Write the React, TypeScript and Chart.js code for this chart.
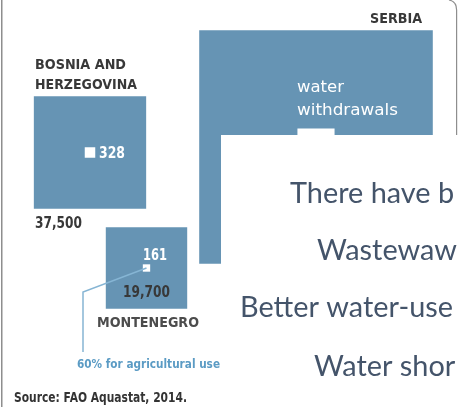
import React, { useEffect, useRef } from "react";
import { Chart, registerables } from "chart.js";

Chart.register(...registerables);

// ---- data (million m3 per year) ----
const countryNameLines = [["BOSNIA AND", "HERZEGOVINA"], ["SERBIA"], ["MONTENEGRO"]];
const totalResources = [37500, 162200, 19700];
const waterWithdrawals = [328, 4100, 161];
const resourceLabels = ["37,500", "", "19,700"];
const withdrawalLabels = ["328", "", "161"];
const legendLines = ["water", "withdrawals"];
const agriNote = "60% for agricultural use";
const sourceNote = "Source: FAO Aquastat, 2014.";
const overlayLines = ["There have b", "Wastewaw", "Better water-use", "Water shor"];

// ---- layout ----
const W = 458;
const H = 407;
const PX_PER_SQRT = 0.58;
const centers = [
  { x: 90, y: 152.5 },
  { x: 316, y: 147 },
  { x: 146.5, y: 268 },
];
const BLUE = "#6694b4";
const DARK = "#383838";
const NOTE_BLUE = "#5b9bc4";
const LINE_BLUE = "#86b5d4";
const OVERLAY_TEXT = "#44546A";
const LABEL_FONT = '"DejaVu Sans", "Liberation Sans", sans-serif';

const radiusFor = (v: number) => (Math.sqrt(v) * PX_PER_SQRT) / Math.SQRT2;

type TextSpec = {
  text: string;
  x: number;
  y: number;
  w: number;
  size: number;
  weight: string;
  color: string;
};

function fitText(ctx: CanvasRenderingContext2D, s: TextSpec, family = LABEL_FONT) {
  if (!s.text) return;
  ctx.save();
  ctx.font = `${s.weight} ${s.size}px ${family}`;
  const m = ctx.measureText(s.text).width;
  ctx.translate(s.x, s.y);
  ctx.scale(s.w / m, 1);
  ctx.fillStyle = s.color;
  ctx.textBaseline = "alphabetic";
  ctx.textAlign = "left";
  ctx.fillText(s.text, 0, 0);
  ctx.restore();
}

const labelPlugin = {
  id: "infographicLabels",
  afterDatasetsDraw(chart: any) {
    const ctx: CanvasRenderingContext2D = chart.ctx;
    // frame lines
    ctx.save();
    ctx.fillStyle = "#8e8e8e";
    ctx.fillRect(1, 0, 1.5, H);
    ctx.strokeStyle = "#8e8e8e";
    ctx.lineWidth = 1.2;
    ctx.beginPath();
    ctx.moveTo(449, 0);
    ctx.quadraticCurveTo(456.6, 1.5, 456.6, 10);
    ctx.lineTo(456.6, 140);
    ctx.stroke();
    // leader line for Montenegro note
    ctx.strokeStyle = LINE_BLUE;
    ctx.lineWidth = 1.5;
    ctx.beginPath();
    ctx.moveTo(centers[2].x, centers[2].y);
    ctx.lineTo(83, 292);
    ctx.lineTo(83, 352);
    ctx.stroke();
    ctx.restore();

    const specs: TextSpec[] = [
      { text: countryNameLines[0][0], x: 35, y: 68.5, w: 91, size: 14, weight: "bold", color: DARK },
      { text: countryNameLines[0][1], x: 35, y: 88.5, w: 102, size: 14, weight: "bold", color: DARK },
      { text: countryNameLines[1][0], x: 370, y: 22.5, w: 52, size: 14, weight: "bold", color: DARK },
      { text: countryNameLines[2][0], x: 97, y: 326.5, w: 102, size: 14, weight: "bold", color: "#4c4c4c" },
      { text: withdrawalLabels[0], x: 99, y: 157.5, w: 26, size: 15, weight: "bold", color: "#ffffff" },
      { text: resourceLabels[0], x: 35, y: 227.5, w: 47, size: 15, weight: "bold", color: DARK },
      { text: withdrawalLabels[2], x: 143, y: 259.5, w: 24, size: 15, weight: "bold", color: "#ffffff" },
      { text: resourceLabels[2], x: 123, y: 296.5, w: 47, size: 15, weight: "bold", color: DARK },
      { text: legendLines[0], x: 297, y: 91.5, w: 47, size: 15, weight: "normal", color: "#ffffff" },
      { text: legendLines[1], x: 297, y: 114.5, w: 101, size: 15, weight: "normal", color: "#ffffff" },
      { text: agriNote, x: 77, y: 367.5, w: 143, size: 12, weight: "bold", color: NOTE_BLUE },
      { text: sourceNote, x: 14, y: 401.5, w: 173, size: 14, weight: "bold", color: "#333333" },
    ];
    specs.forEach((s) => fitText(ctx, s));
  },
  afterDraw(chart: any) {
    const ctx: CanvasRenderingContext2D = chart.ctx;
    ctx.save();
    ctx.fillStyle = "#ffffff";
    ctx.fillRect(221, 135, W - 221, H - 135);
    const family = 'Lato, "Open Sans", sans-serif';
    ctx.font = `28px ${family}`;
    const ref = ctx.measureText(overlayLines[2]).width;
    const sx = 213 / ref;
    const xs = [290, 317, 240, 314];
    const ys = [203, 260, 317, 376];
    ctx.fillStyle = OVERLAY_TEXT;
    ctx.textBaseline = "alphabetic";
    overlayLines.forEach((t, i) => {
      ctx.save();
      ctx.translate(xs[i], ys[i]);
      ctx.scale(sx, 1);
      ctx.fillText(t, 0, 0);
      ctx.restore();
    });
    ctx.restore();
  },
};

export default function App() {
  const ref = useRef<HTMLCanvasElement | null>(null);
  useEffect(() => {
    document.body.style.margin = "0";
    const canvas = ref.current;
    if (!canvas) return;
    const chart = new Chart(canvas, {
      type: "bubble",
      data: {
        datasets: [
          {
            label: "water withdrawals",
            data: waterWithdrawals.map((v, i) => ({ x: centers[i].x, y: centers[i].y, r: radiusFor(v) })),
            backgroundColor: "#ffffff",
            borderWidth: 0,
            pointStyle: "rect",
            order: 0,
            clip: false,
          } as any,
          {
            label: "total renewable water resources",
            data: totalResources.map((v, i) => ({ x: centers[i].x, y: centers[i].y, r: radiusFor(v) })),
            backgroundColor: BLUE,
            borderWidth: 0,
            pointStyle: "rect",
            order: 1,
            clip: false,
          } as any,
        ],
      },
      options: {
        animation: false,
        responsive: false,
        devicePixelRatio: 1,
        layout: { padding: 0, autoPadding: false },
        events: [],
        scales: {
          x: { type: "linear", min: 0, max: W, display: false },
          y: { type: "linear", min: 0, max: H, reverse: true, display: false },
        },
        plugins: {
          legend: { display: false },
          tooltip: { enabled: false },
        },
      },
      plugins: [labelPlugin],
    });
    return () => chart.destroy();
  }, []);
  return (
    <div style={{ width: W, height: H, background: "#ffffff" }}>
      <canvas ref={ref} width={W} height={H} style={{ display: "block", width: W, height: H }} />
    </div>
  );
}
